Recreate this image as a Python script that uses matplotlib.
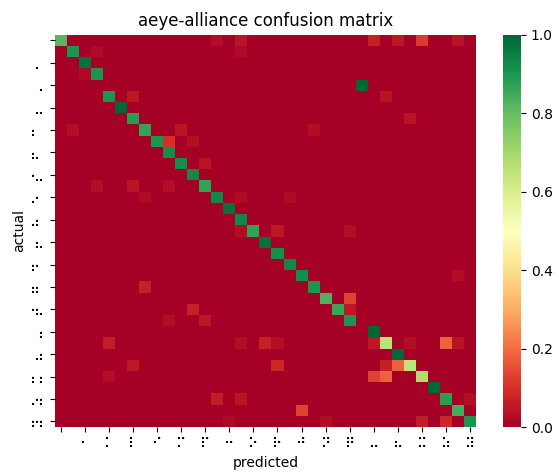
import numpy as np
import matplotlib
matplotlib.use("Agg")
import matplotlib.pyplot as plt
import seaborn as sns

# braille classes, in the order the predicted axis uses
pred_codes = [0x00, 0x01, 0x02, 0x03, 0x05, 0x06, 0x07, 0x09, 0x0A, 0x0B,
              0x0D, 0x0E, 0x0F, 0x11, 0x12, 0x13, 0x15, 0x16, 0x17, 0x19,
              0x1A, 0x1B, 0x1D, 0x1E, 0x1F, 0x04, 0x24, 0x25, 0x26, 0x27,
              0x2D, 0x32, 0x35, 0x3A, 0x3D]
pred_labels = [chr(0x2800 + c) for c in pred_codes]
actual_labels = sorted(pred_labels)

# recall per actual class (share predicted correctly)
correct = [0.82, 0.90, 0.98, 0.90, 1.00, 0.90, 1.00, 0.88, 0.87, 0.90,
           0.92, 0.92, 0.93, 0.87, 0.93, 0.98, 0.93, 0.87, 0.98, 0.92,
           0.93, 0.92, 0.90, 0.83, 0.86, 0.90, 1.00, 0.66, 1.00, 0.65,
           0.68, 1.00, 0.88, 0.84, 0.90]

# confusions: actual row index, predicted column index, share
err_rows = [0, 0, 0, 0, 0, 0, 1, 1, 3, 5, 5, 7, 8, 8, 8, 9, 9, 11, 13, 13,
            13, 14, 14, 14, 17, 17, 17, 21, 22, 23, 24, 24, 25, 25, 27, 27,
            27, 27, 27, 27, 27, 27, 29, 29, 29, 29, 30, 30, 30, 32, 32, 32,
            33, 34, 34, 34, 34]
err_cols = [13, 15, 26, 28, 30, 33, 15, 3, 2, 6, 27, 29, 1, 10, 21, 9, 11,
            12, 3, 6, 9, 7, 15, 19, 15, 18, 24, 33, 7, 24, 11, 24, 9, 12, 4,
            15, 17, 18, 26, 29, 32, 33, 6, 18, 27, 28, 4, 26, 27, 13, 15, 34,
            20, 14, 22, 30, 32]
err_vals = [0.03, 0.04, 0.07, 0.05, 0.12, 0.04, 0.02, 0.02, 0.02, 0.05,
            0.04, 0.04, 0.03, 0.04, 0.03, 0.10, 0.03, 0.04, 0.03, 0.04,
            0.03, 0.02, 0.02, 0.02, 0.03, 0.05, 0.03, 0.03, 0.07, 0.13,
            0.07, 0.05, 0.03, 0.05, 0.06, 0.03, 0.07, 0.03, 0.05, 0.03,
            0.18, 0.04, 0.05, 0.08, 0.07, 0.18, 0.03, 0.13, 0.18, 0.06,
            0.04, 0.03, 0.13, 0.02, 0.03, 0.06, 0.08]

n = len(pred_labels)
cm = np.zeros((n, n))
for r, lab in enumerate(actual_labels):
    cm[r, pred_labels.index(lab)] = correct[r]
for r, c, v in zip(err_rows, err_cols, err_vals):
    cm[r, c] = v

fig = plt.figure(figsize=(5.59, 4.72), dpi=100)
ax = fig.add_axes([0.0984, 0.0953, 0.753, 0.831])
cax = fig.add_axes([0.900, 0.0953, 0.032, 0.831])

sns.heatmap(cm, ax=ax, cbar_ax=cax, cmap="RdYlGn", vmin=0, vmax=1)

ticks = np.arange(0, n, 2) + 0.5
ax.set_xticks(ticks)
ax.set_xticklabels(pred_labels[::2], rotation=0)
ax.set_yticks(ticks)
ax.set_yticklabels(actual_labels[::2], rotation=90, va="center")

ax.set_title("aeye-alliance confusion matrix", fontsize=12)
ax.set_xlabel("predicted")
ax.set_ylabel("actual")

fig.savefig("out.png", dpi=100)
